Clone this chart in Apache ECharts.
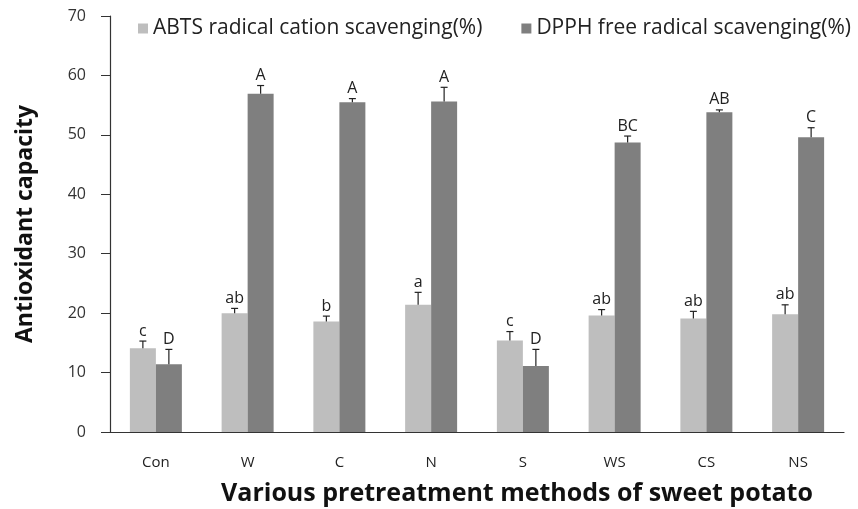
<!DOCTYPE html>
<html><head><meta charset="utf-8">
<script src="https://cdn.jsdelivr.net/npm/echarts@6/dist/echarts.min.js"></script>
<style>html,body{margin:0;padding:0;background:#fff}#c{width:858px;height:509px}</style>
</head><body><div id="c"></div>
<script>
var categories = ['Con','W','C','N','S','WS','CS','NS'];
var abts = [14.1, 20.0, 18.6, 21.4, 15.4, 19.6, 19.1, 19.8];
var abtsErr = [1.2, 0.8, 0.9, 2.1, 1.5, 1.0, 1.2, 1.6];
var dpph = [11.4, 56.9, 55.5, 55.6, 11.1, 48.7, 53.8, 49.6];
var dpphErr = [2.5, 1.4, 0.6, 2.4, 2.8, 1.1, 0.4, 1.6];
var abtsLetters = ['c','ab','b','a','c','ab','ab','ab'];
var dpphLetters = ['D','A','A','A','D','BC','AB','C'];
var seriesNames = ['ABTS radical cation scavenging(%)', 'DPPH free radical scavenging(%)'];

var FONT = '"Open Sans", sans-serif';
var BW = 26;

function errSeries(vals, errs, letters, offset) {
  var data = vals.map(function(v, i){ return [i, v, errs[i], letters[i]]; });
  return {
    type: 'custom', silent: true, z: 5,
    data: data,
    renderItem: function(params, api) {
      var i = api.value(0);
      var base = api.coord([i, api.value(1)]);
      var top = api.coord([i, api.value(1) + api.value(2)]);
      var x = base[0] + offset;
      return { type: 'group', children: [
        { type: 'line', shape: {x1: x, y1: base[1], x2: x, y2: top[1]}, style: {stroke: '#222', lineWidth: 1.2} },
        { type: 'line', shape: {x1: x-3.5, y1: top[1], x2: x+3.5, y2: top[1]}, style: {stroke: '#222', lineWidth: 1.2} },
        { type: 'text', style: { text: data[params.dataIndex][3], x: x, y: top[1] - 2, textAlign: 'center', textVerticalAlign: 'bottom', font: '16px ' + FONT, fill: '#222' } }
      ]};
    }
  };
}

var chart = echarts.init(document.getElementById('c'));
chart.setOption({
  animation: false,
  backgroundColor: '#fff',
  grid: { left: 110, right: 14, top: 16, bottom: 77, outerBoundsMode: 'none', containLabel: false },
  legend: {
    left: 133, top: 13, icon: 'rect', itemWidth: 10, itemHeight: 10, itemGap: 39,
    textStyle: { fontFamily: FONT, fontSize: 21, color: '#222' },
    data: seriesNames
  },
  xAxis: {
    type: 'category', data: categories,
    axisLine: { lineStyle: { color: '#333', width: 1.2 } },
    axisTick: { length: 6, lineStyle: { color: '#333' } },
    axisLabel: { fontFamily: FONT, fontSize: 15, color: '#222', margin: 23 },
    name: 'Various pretreatment methods of sweet potato',
    nameLocation: 'middle', nameGap: 49,
    nameTextStyle: { fontFamily: FONT, fontSize: 25, fontWeight: 'bold', color: '#111', padding: [0, 0, 0, 80] }
  },
  yAxis: {
    type: 'value', min: 0, max: 70, interval: 10,
    splitLine: { show: false },
    axisLine: { show: true, lineStyle: { color: '#333', width: 1.2 } },
    axisTick: { show: true, length: 9, lineStyle: { color: '#333' } },
    axisLabel: { fontFamily: FONT, fontSize: 16, color: '#333', margin: 24 },
    name: 'Antioxidant capacity', nameLocation: 'middle', nameGap: 73,
    nameTextStyle: { fontFamily: FONT, fontSize: 23, fontWeight: 'bold', color: '#111' }
  },
  series: [
    { name: seriesNames[0], type: 'bar', data: abts, barWidth: BW, barGap: '0%', itemStyle: { color: '#bebebe' } },
    { name: seriesNames[1], type: 'bar', data: dpph, barWidth: BW, barGap: '0%', itemStyle: { color: '#7f7f7f' } },
    errSeries(abts, abtsErr, abtsLetters, -BW/2),
    errSeries(dpph, dpphErr, dpphLetters, BW/2)
  ]
});
</script></body></html>
